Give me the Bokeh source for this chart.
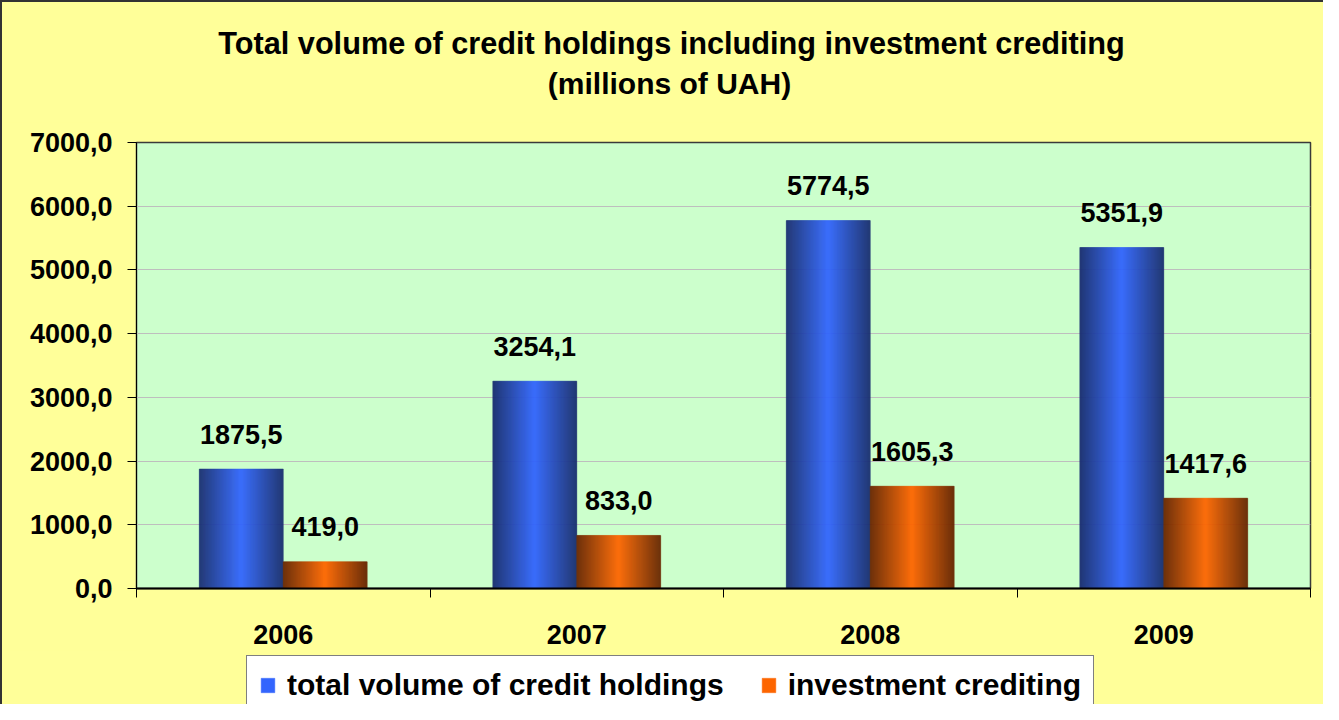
import numpy as np
from bokeh.plotting import figure
from bokeh.layouts import column
from bokeh.models import (ColumnDataSource, Legend, LegendItem, Label,
                          FixedTicker, Range1d)
from bokeh.core.properties import value
from bokeh.embed import file_html
from bokeh.resources import INLINE

# ---------------- data ----------------
years = ["2006", "2007", "2008", "2009"]
total_credit = [1875.5, 3254.1, 5774.5, 5351.9]
investment = [419.0, 833.0, 1605.3, 1417.6]
total_labels = ["1875,5", "3254,1", "5774,5", "5351,9"]
invest_labels = ["419,0", "833,0", "1605,3", "1417,6"]
y_ticks = [0, 1000, 2000, 3000, 4000, 5000, 6000, 7000]
series_names = ["total volume of credit holdings", "investment crediting"]
title_line1 = "Total volume of credit holdings including investment crediting"
title_line2 = "(millions of UAH)"

# ---------------- style ----------------
FONT = "Liberation Sans"
BL, BR = 134, 13          # left / right borders around the plot frame
FW = 1174                 # frame width
W = BL + FW + BR
BW = 0.286                # bar width in category units
NSTRIP = 84
YELLOW = "#FFFF99"


def strip_figure(height, y_range=(0, 1)):
    f = figure(width=W, height=height, x_range=Range1d(0, len(years)),
               y_range=Range1d(*y_range), output_backend="svg",
               toolbar_location=None, x_axis_location=None,
               y_axis_location=None, min_border=0)
    f.title = None
    f.grid.visible = False
    f.outline_line_color = None
    f.background_fill_color = YELLOW
    f.border_fill_color = YELLOW
    return f


# ---------- title strip ----------
TH = 120
pt = strip_figure(TH)
for txt, cx, base_y, fs in [(title_line1, 669, 41, "30.7px"),
                            (title_line2, 667, 81, "30px")]:
    pt.add_layout(Label(x=cx - BL, y=TH - base_y, x_units="screen",
                        y_units="screen", text=txt, text_align="center",
                        text_baseline="alphabetic", text_font=FONT,
                        text_font_style="bold", text_font_size=fs,
                        text_color="black"))

# ---------- main chart ----------
p = figure(frame_width=FW, frame_height=446,
           x_range=Range1d(0, len(years)), y_range=Range1d(0, 7000),
           output_backend="svg", toolbar_location=None,
           min_border_left=BL, min_border_right=BR,
           min_border_top=140 - TH, min_border_bottom=62)
p.title = None
p.border_fill_color = YELLOW
p.background_fill_color = "#CCFFCC"
p.outline_line_color = "#3a3a3a"
p.outline_line_width = 1.5

p.xgrid.visible = False
p.ygrid.ticker = FixedTicker(ticks=y_ticks)
p.ygrid.grid_line_color = "#BEBEBE"
p.ygrid.grid_line_width = 1


def gradient_strips(values, offset, edge, mid):
    left, right, top, color = [], [], [], []
    edge = np.array(edge, float)
    mid = np.array(mid, float)
    for i, v in enumerate(values):
        x0 = i + 0.5 + offset
        for k in range(NSTRIP):
            t = (k + 0.5) / NSTRIP
            f = 1 - abs(t - 0.5) * 2
            c = edge + (mid - edge) * f
            left.append(x0 + BW * k / NSTRIP)
            right.append(x0 + BW * (k + 1) / NSTRIP)
            top.append(v)
            color.append("#%02x%02x%02x" % tuple(int(round(a)) for a in c))
    return ColumnDataSource(dict(left=left, right=right, top=top,
                                 bottom=[0] * len(top), color=color))


src_blue = gradient_strips(total_credit, -BW, (26, 46, 112), (51, 102, 255))
src_orng = gradient_strips(investment, 0.0, (104, 38, 0), (255, 102, 0))

bar_kw = dict(left="left", right="right", top="top", bottom="bottom",
              fill_color="color", line_color="color", line_width=0.5)
p.quad(source=src_blue, **bar_kw)
p.quad(source=src_orng, **bar_kw)

# data labels
idx = np.arange(len(years))
lab_kw = dict(text_font=value(FONT), text_font_style="bold",
              text_font_size="27px", text_align="center",
              text_baseline="alphabetic", y_offset=-35, text_color="black")
p.text(x=idx + 0.5 - BW / 2, y=total_credit, text=total_labels, **lab_kw)
p.text(x=idx + 0.5 + BW / 2, y=investment, text=invest_labels, **lab_kw)

# x axis
xa = p.xaxis[0]
xa.ticker = FixedTicker(ticks=[i + 0.5 for i in range(len(years))],
                        minor_ticks=list(range(len(years) + 1)))
xa.major_label_overrides = {i + 0.5: y for i, y in enumerate(years)}
xa.major_tick_line_color = None
xa.major_tick_out = 0
xa.major_tick_in = 0
xa.minor_tick_out = 9
xa.minor_tick_in = 0
xa.minor_tick_line_color = "black"
xa.axis_line_color = "black"
xa.axis_line_width = 2
xa.major_label_standoff = 27
xa.major_label_text_font = FONT
xa.major_label_text_font_style = "bold"
xa.major_label_text_font_size = "27px"
xa.major_label_text_color = "black"

# y axis
ya = p.yaxis[0]
ya.ticker = FixedTicker(ticks=y_ticks, minor_ticks=[])
ya.major_label_overrides = {t: f"{t:.1f}".replace(".", ",") for t in y_ticks}
ya.major_tick_out = 9
ya.major_tick_in = 0
ya.major_tick_line_color = "black"
ya.axis_line_color = "black"
ya.axis_line_width = 1
ya.major_label_standoff = 15
ya.major_label_text_font = FONT
ya.major_label_text_font_style = "bold"
ya.major_label_text_font_size = "27px"
ya.major_label_text_color = "black"

# ---------- legend strip ----------
p2 = strip_figure(54, y_range=(-2, -1))
lb = p2.quad(source=src_blue, **bar_kw)
lo = p2.quad(source=src_orng, **bar_kw)

legend = Legend(items=[
    LegendItem(label=series_names[0], renderers=[lb], index=NSTRIP // 2),
    LegendItem(label=series_names[1], renderers=[lo], index=NSTRIP // 2),
], orientation="horizontal", location=(244 - BL, -11))
legend.border_line_color = "black"
legend.border_line_width = 1
legend.background_fill_color = "white"
legend.background_fill_alpha = 1
legend.label_text_font = FONT
legend.label_text_font_style = "bold"
legend.label_text_font_size = "30px"
legend.label_text_color = "black"
legend.glyph_width = 17
legend.glyph_height = 18
legend.label_standoff = 11
legend.spacing = 36
legend.padding = 12
legend.margin = 0
p2.add_layout(legend)

layout = column(pt, p, p2, spacing=0,
                styles={"border-top": "2px solid #333333",
                        "border-left": "2px solid #333333",
                        "background-color": YELLOW})

open("out.html", "w").write(file_html(layout, INLINE))
